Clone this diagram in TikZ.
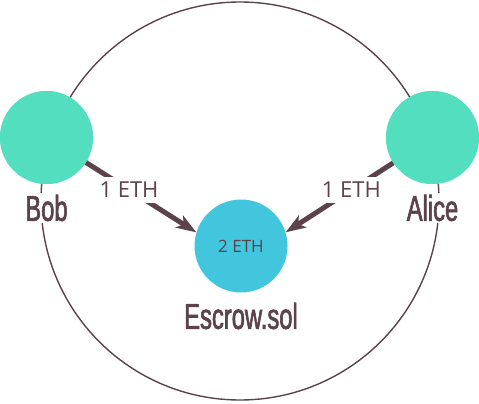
\documentclass[tikz,border=0pt]{standalone}
\usepackage{fontspec}
\usetikzlibrary{arrows.meta}
\newfontfamily\namefont[FakeStretch=0.66,FakeBold=1.6]{Liberation Sans}
\newfontfamily\ethfont{Open Sans}
\definecolor{inkc}{RGB}{92,67,75}
\definecolor{greenc}{RGB}{84,222,192}
\definecolor{bluec}{RGB}{66,198,222}
\begin{document}
\begin{tikzpicture}[x=1pt,y=-1pt,
  party/.style={circle, fill=greenc, minimum size=93pt, inner sep=0pt},
  contract/.style={circle, fill=bluec, minimum size=93pt, inner sep=0pt, text=inkc, font=\ethfont\fontsize{17}{17}\selectfont},
  namelabel/.style={fill=white, text=inkc, inner sep=2pt, font=\namefont\fontsize{36}{36}\selectfont},
  ethlabel/.style={fill=white, text=inkc, inner sep=5pt, font=\ethfont\fontsize{22}{22}\selectfont},
  transfer/.style={draw=inkc, line width=5pt, -{Stealth[length=20pt,width=14pt,inset=5pt]}},
  ring/.style={draw=inkc, line width=1.4pt}]
\useasboundingbox (0,0) rectangle (479,404);
\draw[ring] (240,201) circle[radius=199];
\node[party] (bob) at (46.5,137.5) {};
\node[party] (alice) at (432.5,137.5) {};
\node[contract] (escrow) at (241,246) {2 ETH};
\draw[transfer] (bob) -- node[ethlabel, pos=0.39] {1 ETH} (escrow.163);
\draw[transfer] (alice) -- node[ethlabel, pos=0.39] {1 ETH} (escrow.17);
\node[party] at (bob) {};
\node[party] at (alice) {};
\node[namelabel] (boblabel) at (46.5,208) {Bob};
\node[namelabel] (alicelabel) at (432.5,208) {Alice};
\node[namelabel] (escrowlabel) at (241,316) {Escrow.sol};
\end{tikzpicture}
\end{document}
